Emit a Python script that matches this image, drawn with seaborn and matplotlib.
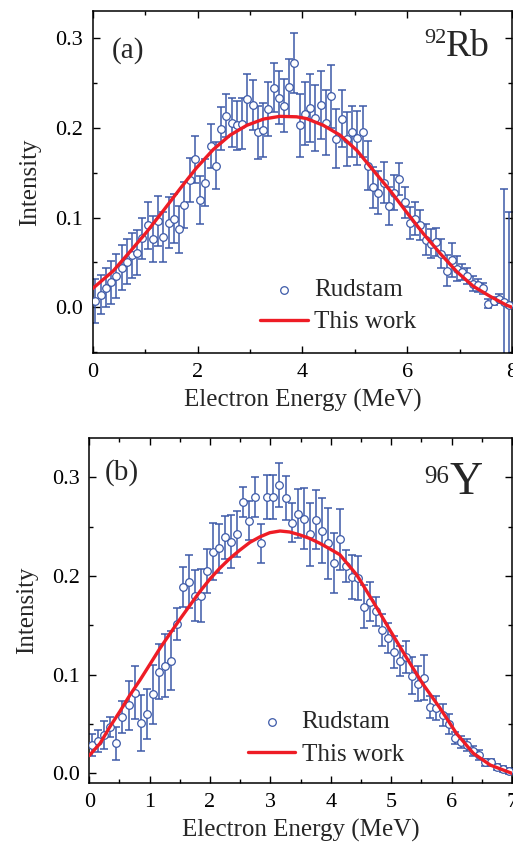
import matplotlib
matplotlib.use("Agg")
import matplotlib.pyplot as plt
import seaborn as sns
from matplotlib.ticker import MultipleLocator, FormatStrFormatter

# ---- 92Rb (panel a) ----
rb_energy = [0.05, 0.15, 0.25, 0.35, 0.45, 0.55, 0.65, 0.75, 0.85, 0.95,
             1.05, 1.15, 1.25, 1.35, 1.45, 1.55, 1.65, 1.75, 1.85, 1.95,
             2.05, 2.15, 2.25, 2.35, 2.45, 2.55, 2.65, 2.75, 2.85, 2.95,
             3.05, 3.15, 3.25, 3.35, 3.45, 3.55, 3.65, 3.75, 3.85, 3.95,
             4.05, 4.15, 4.25, 4.35, 4.45, 4.55, 4.65, 4.75, 4.85, 4.95,
             5.05, 5.15, 5.25, 5.35, 5.45, 5.55, 5.65, 5.75, 5.85, 5.95,
             6.05, 6.15, 6.25, 6.35, 6.45, 6.55, 6.65, 6.75, 6.85, 6.95,
             7.05, 7.15, 7.25, 7.35, 7.45, 7.55, 7.65, 7.75, 7.85, 7.95]
rb_rudstam = [0.007, 0.014, 0.022, 0.028, 0.035, 0.044, 0.051, 0.058, 0.061, 0.077,
              0.0915, 0.076, 0.096, 0.0785, 0.0945, 0.099, 0.087, 0.114, 0.142, 0.165,
              0.120, 0.139, 0.180, 0.158, 0.199, 0.2135, 0.206, 0.203, 0.205, 0.232,
              0.226, 0.195, 0.1975, 0.221, 0.245, 0.234, 0.225, 0.2455, 0.2725, 0.203,
              0.216, 0.2225, 0.211, 0.226, 0.206, 0.2355, 0.188, 0.2105, 0.188, 0.196,
              0.189, 0.196, 0.158, 0.134, 0.128, 0.139, 0.113, 0.128, 0.1435, 0.117,
              0.094, 0.099, 0.092, 0.0755, 0.071, 0.073, 0.060, 0.041, 0.053, 0.043,
              0.039, 0.0345, 0.0265, 0.0245, 0.021, 0.004, 0.007, 0.0097, 0.006, 0.003]
rb_err = [0.025, 0.022, 0.022, 0.024, 0.025, 0.025, 0.025, 0.025, 0.025, 0.023,
          0.026, 0.026, 0.028, 0.028, 0.028, 0.027, 0.026, 0.026, 0.025, 0.026,
          0.027, 0.026, 0.025, 0.026, 0.024, 0.024, 0.027, 0.027, 0.028, 0.028,
          0.028, 0.030, 0.030, 0.030, 0.027, 0.030, 0.030, 0.032, 0.034, 0.035,
          0.035, 0.038, 0.037, 0.038, 0.036, 0.035, 0.033, 0.032, 0.030, 0.028,
          0.030, 0.028, 0.027, 0.023, 0.024, 0.023, 0.021, 0.020, 0.018, 0.017,
          0.018, 0.018, 0.017, 0.017, 0.016, 0.016, 0.016, 0.017, 0.019, 0.014,
          0.009, 0.009, 0.008, 0.007, 0.006, 0.005, 0.004, 0.005, 0.126, 0.103]
rb_calc_energy = [0.0, 0.39, 0.71, 1.03, 1.35, 1.67, 1.98, 2.30, 2.62, 2.94, 3.26,
                  3.57, 3.89, 4.08, 4.40, 4.72, 5.04, 5.35, 5.67, 5.99, 6.31, 6.63,
                  6.95, 7.26, 7.58, 7.90, 8.0]
rb_calc = [0.021, 0.0405, 0.062, 0.084, 0.108, 0.1325, 0.1555, 0.176, 0.192, 0.203,
           0.210, 0.213, 0.2125, 0.2105, 0.203, 0.192, 0.175, 0.153, 0.1305, 0.106,
           0.082, 0.060, 0.0395, 0.0235, 0.0123, 0.0022, 0.0]

# ---- 96Y (panel b) ----
y_energy = [0.05, 0.15, 0.25, 0.35, 0.45, 0.55, 0.65, 0.75, 0.85, 0.95,
            1.05, 1.15, 1.25, 1.35, 1.45, 1.55, 1.65, 1.75, 1.85, 1.95,
            2.05, 2.15, 2.25, 2.35, 2.45, 2.55, 2.65, 2.75, 2.85, 2.95,
            3.05, 3.15, 3.25, 3.35, 3.45, 3.55, 3.65, 3.75, 3.85, 3.95,
            4.05, 4.15, 4.25, 4.35, 4.45, 4.55, 4.65, 4.75, 4.85, 4.95,
            5.05, 5.15, 5.25, 5.35, 5.45, 5.55, 5.65, 5.75, 5.85, 5.95,
            6.05, 6.15, 6.25, 6.35, 6.45, 6.55, 6.65, 6.75, 6.85, 6.95]
y_rudstam = [0.0287, 0.0327, 0.0388, 0.047, 0.0304, 0.057, 0.069, 0.0817, 0.051, 0.060,
             0.080, 0.103, 0.109, 0.114, 0.151, 0.189, 0.194, 0.180, 0.180, 0.205,
             0.2245, 0.228, 0.239, 0.2347, 0.2425, 0.2746, 0.256, 0.280, 0.233, 0.280,
             0.280, 0.292, 0.279, 0.254, 0.263, 0.258, 0.242, 0.257, 0.246, 0.233,
             0.213, 0.237, 0.2103, 0.199, 0.198, 0.169, 0.174, 0.164, 0.145, 0.137,
             0.123, 0.114, 0.118, 0.099, 0.091, 0.0969, 0.0675, 0.0665, 0.059, 0.050,
             0.0355, 0.0314, 0.0287, 0.0226, 0.0185, 0.011, 0.011, 0.0067, 0.004, 0.0026]
y_err = [0.011, 0.011, 0.014, 0.010, 0.017, 0.016, 0.025, 0.027, 0.028, 0.025,
         0.030, 0.028, 0.032, 0.030, 0.016, 0.020, 0.027, 0.026, 0.027, 0.022,
         0.029, 0.025, 0.022, 0.027, 0.023, 0.015, 0.020, 0.020, 0.020, 0.022,
         0.022, 0.022, 0.022, 0.020, 0.025, 0.031, 0.032, 0.030, 0.033, 0.036,
         0.030, 0.031, 0.016, 0.022, 0.022, 0.022, 0.020, 0.015, 0.016, 0.015,
         0.016, 0.015, 0.016, 0.019, 0.018, 0.023, 0.011, 0.012, 0.011, 0.010,
         0.006, 0.006, 0.006, 0.005, 0.005, 0.004, 0.004, 0.003, 0.003, 0.003]
y_calc_energy = [0.0, 0.18, 0.34, 0.51, 0.67, 0.84, 1.0, 1.17, 1.34, 1.5, 1.67, 1.83,
                 2.0, 2.16, 2.33, 2.49, 2.66, 2.83, 2.99, 3.16, 3.32, 3.49, 3.65,
                 3.82, 3.98, 4.15, 4.43, 4.70, 4.98, 5.26, 5.53, 5.81, 6.08, 6.36,
                 6.64, 7.0]
y_calc = [0.018, 0.0304, 0.047, 0.063, 0.079, 0.0945, 0.110, 0.1266, 0.1418, 0.156,
          0.1705, 0.184, 0.197, 0.2077, 0.2178, 0.226, 0.234, 0.2397, 0.2438, 0.2455,
          0.2445, 0.2415, 0.238, 0.233, 0.2275, 0.2215, 0.201, 0.174, 0.145, 0.1165,
          0.090, 0.0659, 0.0405, 0.0203, 0.0084, 0.0]

blue = "#3d5aa8"
red = "#ee1c25"

sns.set_theme(style="ticks")
plt.rcParams["font.family"] = ["Liberation Serif", "DejaVu Serif"]
plt.rcParams["axes.linewidth"] = 1.1

fig = plt.figure(figsize=(5.13, 8.48), dpi=100)
ax1 = fig.add_axes([0.1807, 0.5837, 0.8174, 0.4033])
ax2 = fig.add_axes([0.174, 0.0763, 0.824, 0.4075])


def draw(ax, e, v, err, ce, cv):
	ax.errorbar(e, v, yerr=err, fmt="none", ecolor=blue, elinewidth=1.1,
		capsize=2.8, capthick=1.1, zorder=2)
	sns.scatterplot(x=e, y=v, ax=ax, marker="o", s=30, facecolor="white",
		edgecolor=blue, linewidth=0.9, label="Rudstam", zorder=3)
	sns.lineplot(x=ce, y=cv, ax=ax, color=red, lw=2.4, label="This work", zorder=4)
	ax.tick_params(which="both", direction="in", top=True, right=True,
		labelsize=16, color="black", labelcolor="black", pad=7)
	ax.tick_params(which="major", length=5, width=1.0)
	ax.tick_params(which="minor", length=3, width=1.0)
	ax.yaxis.set_major_locator(MultipleLocator(0.1))
	ax.yaxis.set_minor_locator(MultipleLocator(0.05))
	ax.yaxis.set_major_formatter(FormatStrFormatter("%.1f"))
	ax.set_xlabel("Electron Energy (MeV)", fontsize=18, labelpad=5)
	ax.set_ylabel("Intensity", fontsize=18, labelpad=10)
	for s in ax.spines.values():
		s.set_color("black")


draw(ax1, rb_energy, rb_rudstam, rb_err, rb_calc_energy, rb_calc)
ax1.set_xlim(0, 8)
ax1.set_ylim(-0.051, 0.3305)
ax1.xaxis.set_major_locator(MultipleLocator(2))
ax1.xaxis.set_minor_locator(MultipleLocator(1))
ax1.legend(loc="center left", bbox_to_anchor=(0.40, 0.137), frameon=False,
	fontsize=18, handlelength=1.9, handletextpad=0.25, labelspacing=0.38,
	borderpad=0, borderaxespad=0)

draw(ax2, y_energy, y_rudstam, y_err, y_calc_energy, y_calc)
ax2.set_xlim(0, 7)
ax2.set_ylim(-0.0101, 0.340)
ax2.xaxis.set_major_locator(MultipleLocator(1))
ax2.xaxis.set_minor_locator(MultipleLocator(0.5))
ax2.legend(loc="center left", bbox_to_anchor=(0.375, 0.130), frameon=False,
	fontsize=18, handlelength=1.9, handletextpad=0.25, labelspacing=0.42,
	borderpad=0, borderaxespad=0)

ax1.text(0.045, 0.865, "(a)", transform=ax1.transAxes, fontsize=21, va="baseline")
ax2.text(0.037, 0.8776, "(b)", transform=ax2.transAxes, fontsize=21, va="baseline")

# nucleus labels: element symbol, then the mass number placed just left of it
t1 = ax1.text(0.9475, 0.868, "Rb", transform=ax1.transAxes, fontsize=27,
	ha="right", va="baseline")
t2 = ax2.text(0.9307, 0.837, "Y", transform=ax2.transAxes, fontsize=33,
	ha="right", va="baseline")
fig.canvas.draw()
r = fig.canvas.get_renderer()
for ax, t, num, fs, rise in ((ax1, t1, "92", 16, 0.05), (ax2, t2, "96", 18, 0.05)):
	bb = t.get_window_extent(r).transformed(ax.transAxes.inverted())
	ax.text(bb.x0, bb.y0 + rise + 0.012, num, transform=ax.transAxes,
		fontsize=fs, ha="right", va="baseline")

fig.savefig("out.png", dpi=100)
